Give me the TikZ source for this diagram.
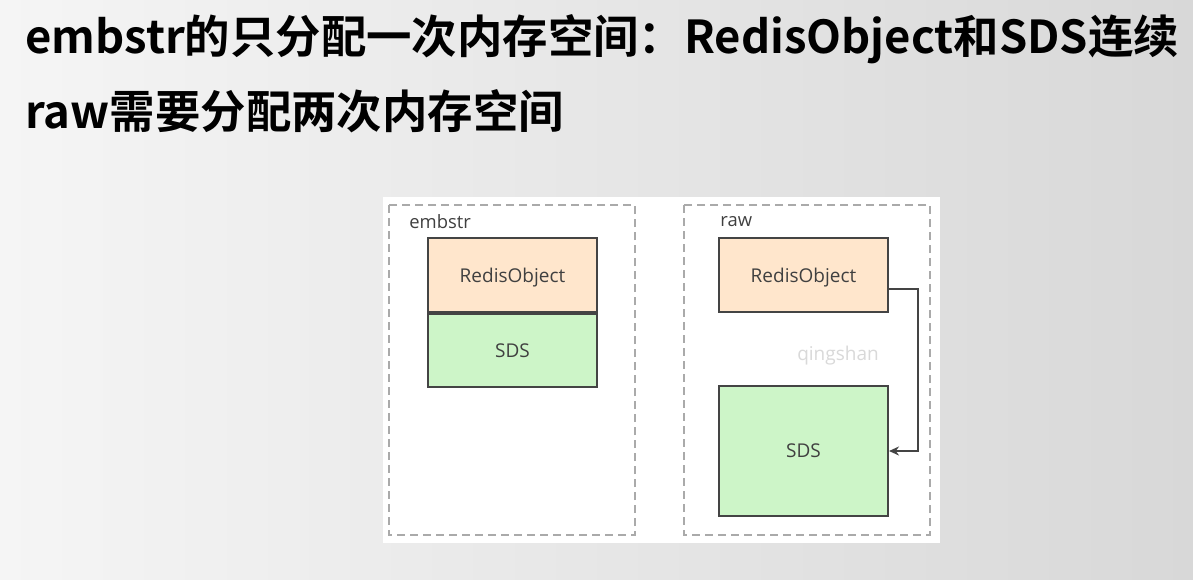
\documentclass[tikz,border=0pt]{standalone}
\usepackage{fontspec}
\setmainfont{Open Sans}
\newfontfamily\titlefont{Noto Sans CJK SC}[UprightFont=* Bold]
\usepackage{tikz}
\usetikzlibrary{arrows.meta}

\definecolor{slideL}{HTML}{F5F5F5}
\definecolor{slideR}{HTML}{D8D8D8}
\definecolor{objfill}{HTML}{FFE6CC}
\definecolor{sdsfill}{HTML}{CDF5C8}
\definecolor{edge}{HTML}{444444}
\definecolor{frame}{HTML}{AAAAAA}
\definecolor{txt}{HTML}{404040}

\tikzset{
    cell/.style={draw=edge, line width=1pt, text=txt, minimum width=84.5pt, inner sep=0pt, text depth=0pt, font=\fontsize{9.5}{11}\selectfont},
    region/.style={draw=frame, line width=1pt, dash pattern=on 4pt off 2.5pt},
    tag/.style={anchor=west, inner sep=0pt, text=txt, font=\fontsize{9.2}{11}\selectfont},
    link/.style={draw=edge, line width=0.8pt, -{Stealth[length=5pt, width=4.5pt]}}
}

\begin{document}
\begin{tikzpicture}[x=0.5pt, y=-0.5pt]
    \useasboundingbox (0,0) rectangle (1193,579);
    \shade[left color=slideL, right color=slideR] (0,0) rectangle (1193,579);

    % headline
    \node[anchor=base west, inner sep=0pt, font=\titlefont\fontsize{22.7}{27}\selectfont] (title1) at (25,53) {embstr的只分配一次内存空间：RedisObject和SDS连续};
    \node[anchor=base west, inner sep=0pt, font=\titlefont\fontsize{22.7}{27}\selectfont] (title2) at (25,128) {raw需要分配两次内存空间};

    \fill[white] (383,197) rectangle (940,543);

    % embstr: one allocation
    \begin{scope}
        \draw[region] (389,205) rectangle (635,535);
        \node[tag] (embtag) at (409,222) {embstr};
        \node[cell, fill=objfill, minimum height=37pt] (embobj) at (512.5,275) {RedisObject};
        \node[cell, fill=sdsfill, minimum height=36.5pt, anchor=north] (embsds) at (embobj.south) {SDS};
    \end{scope}

    % raw: two allocations
    \begin{scope}
        \draw[region] (684,205) rectangle (930,535);
        \node[tag] (rawtag) at (720,222) {raw};
        \node[cell, fill=objfill, minimum height=37pt] (rawobj) at (803.5,275) {RedisObject};
        \node[cell, fill=sdsfill, minimum height=65pt] (rawsds) at (803.5,451) {SDS};
        \node[text=gray!30, font=\fontsize{9.5}{11}\selectfont] (mark) at (838,356) {qingshan};
        \draw[link] ([yshift=-7pt]rawobj.east) -- ++(29,0) |- (rawsds.east);
    \end{scope}
\end{tikzpicture}
\end{document}
